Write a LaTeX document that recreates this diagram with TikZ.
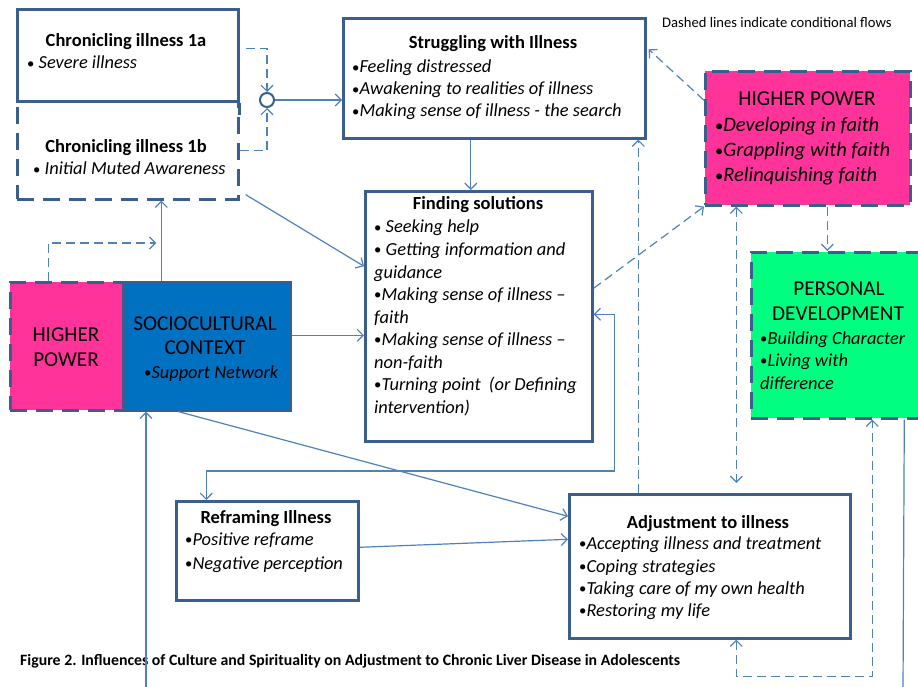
\documentclass[tikz,border=0pt]{standalone}
\usepackage{fontspec}
\setmainfont{Carlito}
\usetikzlibrary{arrows.meta}

\definecolor{boxline}{HTML}{3A5F8F}
\definecolor{flow}{HTML}{4F81BD}
\definecolor{hpink}{HTML}{FF3399}
\definecolor{scblue}{HTML}{0070C0}
\definecolor{pdgreen}{HTML}{00FF80}

% small upright list bullet
\newcommand\bul{{\upshape\raisebox{0.9pt}{\scalebox{0.8}{•}}}}

\tikzset{
  box/.style={draw=boxline, line width=2.6pt, rectangle, inner sep=0pt, anchor=north west},
  dbox/.style={box, dash pattern=on 17pt off 9pt},
  flowline/.style={draw=flow, line width=1.2pt, -{Straight Barb[length=6pt,width=12pt]}},
  biflow/.style={draw=flow, line width=1.2pt, {Straight Barb[length=6pt,width=12pt]}-{Straight Barb[length=6pt,width=12pt]}},
  plainflow/.style={draw=flow, line width=1.2pt},
  cond/.style={dash pattern=on 9pt off 5pt},
  title/.style={font=\fontsize{18.5}{22}\selectfont\bfseries, anchor=base, inner sep=0pt},
  item/.style={font=\fontsize{18.4}{22}\selectfont\itshape, anchor=base west, inner sep=0pt},
  big/.style={font=\fontsize{21.2}{25}\selectfont, anchor=base, inner sep=0pt},
  bigitem/.style={font=\fontsize{20.5}{25}\selectfont\itshape, anchor=base west, inner sep=0pt},
}

\begin{document}
\begin{tikzpicture}[x=1pt, y=-1pt]
\useasboundingbox (0,0) rectangle (918,687);

% ---------- boxes ----------
\node[dbox, minimum width=221pt, minimum height=98pt] (c1b) at (16,100) {};
\node[box, fill=white, minimum width=221pt, minimum height=92pt] (c1a) at (16,8) {};
\draw[draw=boxline, line width=2.6pt] (c1a.south east) -- ++(0,12);
\node[box, minimum width=302pt, minimum height=120pt] (strug) at (342,17) {};
\node[box, minimum width=227pt, minimum height=250pt] (fs) at (364,190) {};
\node[dbox, fill=hpink, minimum width=205pt, minimum height=134pt] (hpR) at (704,70) {};
\node[dbox, fill=pdgreen, minimum width=185pt, minimum height=166pt] (pd) at (750,251) {};
\node[dbox, fill=hpink, minimum width=113pt, minimum height=128pt] (hpL) at (9,281) {};
\node[box, fill=scblue, minimum width=167pt, minimum height=128pt] (sc) at (122,281) {};
\node[box, minimum width=182pt, minimum height=99pt] (ref) at (175,500) {};
\node[box, minimum width=281pt, minimum height=144pt] (adj) at (568,493) {};
\node[circle, draw=boxline, line width=2pt, fill=white, minimum size=14pt, inner sep=0pt] (hub) at (267,100) {};

% free ends of the long return loop
\coordinate (pdout) at (903,690);
\coordinate (scin) at (146,690);

% ---------- texts ----------
\node[title] (t1a) at (126,47) {Chronicling illness 1a};
\node[item] (i1a) at (27,69) {\bul\ Severe illness};
\node[title] (t1b) at (126,153) {Chronicling illness 1b};
\node[item] (i1b) at (33,175) {\bul\ Initial Muted Awareness};

\node[title] (tst) at (493,49) {Struggling with Illness};
\node[item] (ist1) at (352,73) {\bul Feeling distressed};
\node[item] (ist2) at (352,95) {\bul Awakening to realities of illness};
\node[item] (ist3) at (352,117) {\bul Making sense of illness - the search};

\node[title] (tfs) at (478,210) {Finding solutions};
\node[item] (ifs1) at (374,233) {\bul\ Seeking help};
\node[item] (ifs2) at (374,255.5) {\bul\ Getting information and};
\node[item] (ifs3) at (374,278) {guidance};
\node[item] (ifs4) at (374,300.5) {\bul Making sense of illness –};
\node[item] (ifs5) at (374,323) {faith};
\node[item] (ifs6) at (374,345.5) {\bul Making sense of illness –};
\node[item] (ifs7) at (374,368) {non-faith};
\node[item] (ifs8) at (374,390.5) {\bul Turning point\ \ (or Defining};
\node[item] (ifs9) at (374,413) {intervention)};

\node[big] (thpR) at (807,106) {HIGHER POWER};
\node[bigitem] (ihp1) at (715,132) {\bul Developing in faith};
\node[bigitem] (ihp2) at (715,157) {\bul Grappling with faith};
\node[bigitem] (ihp3) at (715,182) {\bul Relinquishing faith};

\node[big] (thpL1) at (66,341) {HIGHER};
\node[big] (thpL2) at (66,366) {POWER};

\node[big] (tsc1) at (205,330) {SOCIOCULTURAL};
\node[big] (tsc2) at (205,354) {CONTEXT};
\node[item] (isc) at (144,378) {\bul Support Network};

\node[big] (tpd1) at (839,295) {PERSONAL};
\node[big] (tpd2) at (838,320) {DEVELOPMENT};
\node[item] (ipd1) at (760,344) {\bul Building Character};
\node[item] (ipd2) at (760,366) {\bul Living with};
\node[item] (ipd3) at (760,389) {difference};

\node[title] (tref) at (266,523) {Reframing Illness};
\node[item] (iref1) at (185,545) {\bul Positive reframe};
\node[item] (iref2) at (185,569) {\bul Negative perception};

\node[title] (tadj) at (708,528) {Adjustment to illness};
\node[item] (iadj1) at (579,549) {\bul Accepting illness and treatment};
\node[item] (iadj2) at (579,572) {\bul Coping strategies};
\node[item] (iadj3) at (579,594) {\bul Taking care of my own health};
\node[item] (iadj4) at (579,616) {\bul Restoring my life};

\node[font=\fontsize{14.6}{17}\selectfont, anchor=base west, inner sep=0pt] (note) at (662,28)
  {Dashed lines indicate conditional flows};
\node[font=\fontsize{15.8}{18}\selectfont\bfseries, anchor=base west, inner sep=0pt] (caption) at (20,665)
  {Figure 2. Influences of Culture and Spirituality on Adjustment to Chronic Liver Disease in Adolescents};

% ---------- connectors ----------
% onset branches meeting at the junction
\draw[flowline, cond] ([xshift=6pt,yshift=7pt]c1a.east) -| (hub.north);
\draw[flowline, cond] (c1b.east) -| (hub.south);
\draw[flowline] (hub.east) -- (hub.east -| strug.west);

% main sequence
\draw[flowline] ([xshift=-8pt]fs.north |- strug.south) -- ([xshift=-8pt]fs.north);
\draw[flowline] ([xshift=6pt,yshift=6pt]c1b.south east) -- ([yshift=50pt]fs.west);
\draw[flowline] ([yshift=11pt]sc.east) -- ([yshift=11pt]sc.east -| fs.west);
\draw[flowline] ([xshift=-45.5pt]sc.north) -- ([xshift=-45.5pt]sc.north |- c1b.south);
\draw[flowline, cond] ([xshift=-18.5pt]hpL.north) -- ++(0,-38) -- ++(108,0);
\draw[flowline] ([xshift=-28.5pt]sc.south) -- ([yshift=50pt]adj.west);
\draw[flowline] ([yshift=3.5pt]ref.east) -- ([yshift=27pt]adj.west);
\draw[biflow] ([yshift=2pt]fs.east) -- ++(21,0) |- ([xshift=-61pt]ref.north |- 0,471) -- ([xshift=-61pt]ref.north);

% spiritual (conditional) flows
\draw[flowline, cond] ([yshift=38pt]hpR.west) -- ([xshift=2pt,yshift=29pt]strug.east);
\draw[flowline, cond] ([yshift=28pt]fs.east) -- (hpR.south west);
\draw[flowline, cond] ([xshift=19.5pt]hpR.south) -- ([xshift=19.5pt]hpR.south |- pd.north);
\draw[biflow, cond, shorten >=10pt] ([xshift=-71.5pt]hpR.south) -- ([xshift=-71.5pt]hpR.south |- adj.north);
\draw[flowline, cond] ([xshift=-71.5pt]adj.north) -- ([xshift=-71.5pt]adj.north |- strug.south);
\draw[biflow, cond] ([xshift=26.5pt]adj.south) -- ++(0,37) -| ([xshift=28.5pt]pd.south);

% long return loop from personal development to the sociocultural context
\draw[plainflow] ([xshift=60.5pt]pd.south) -- (pdout);
\draw[flowline] (scin) -- (scin |- sc.south);
\end{tikzpicture}
\end{document}
